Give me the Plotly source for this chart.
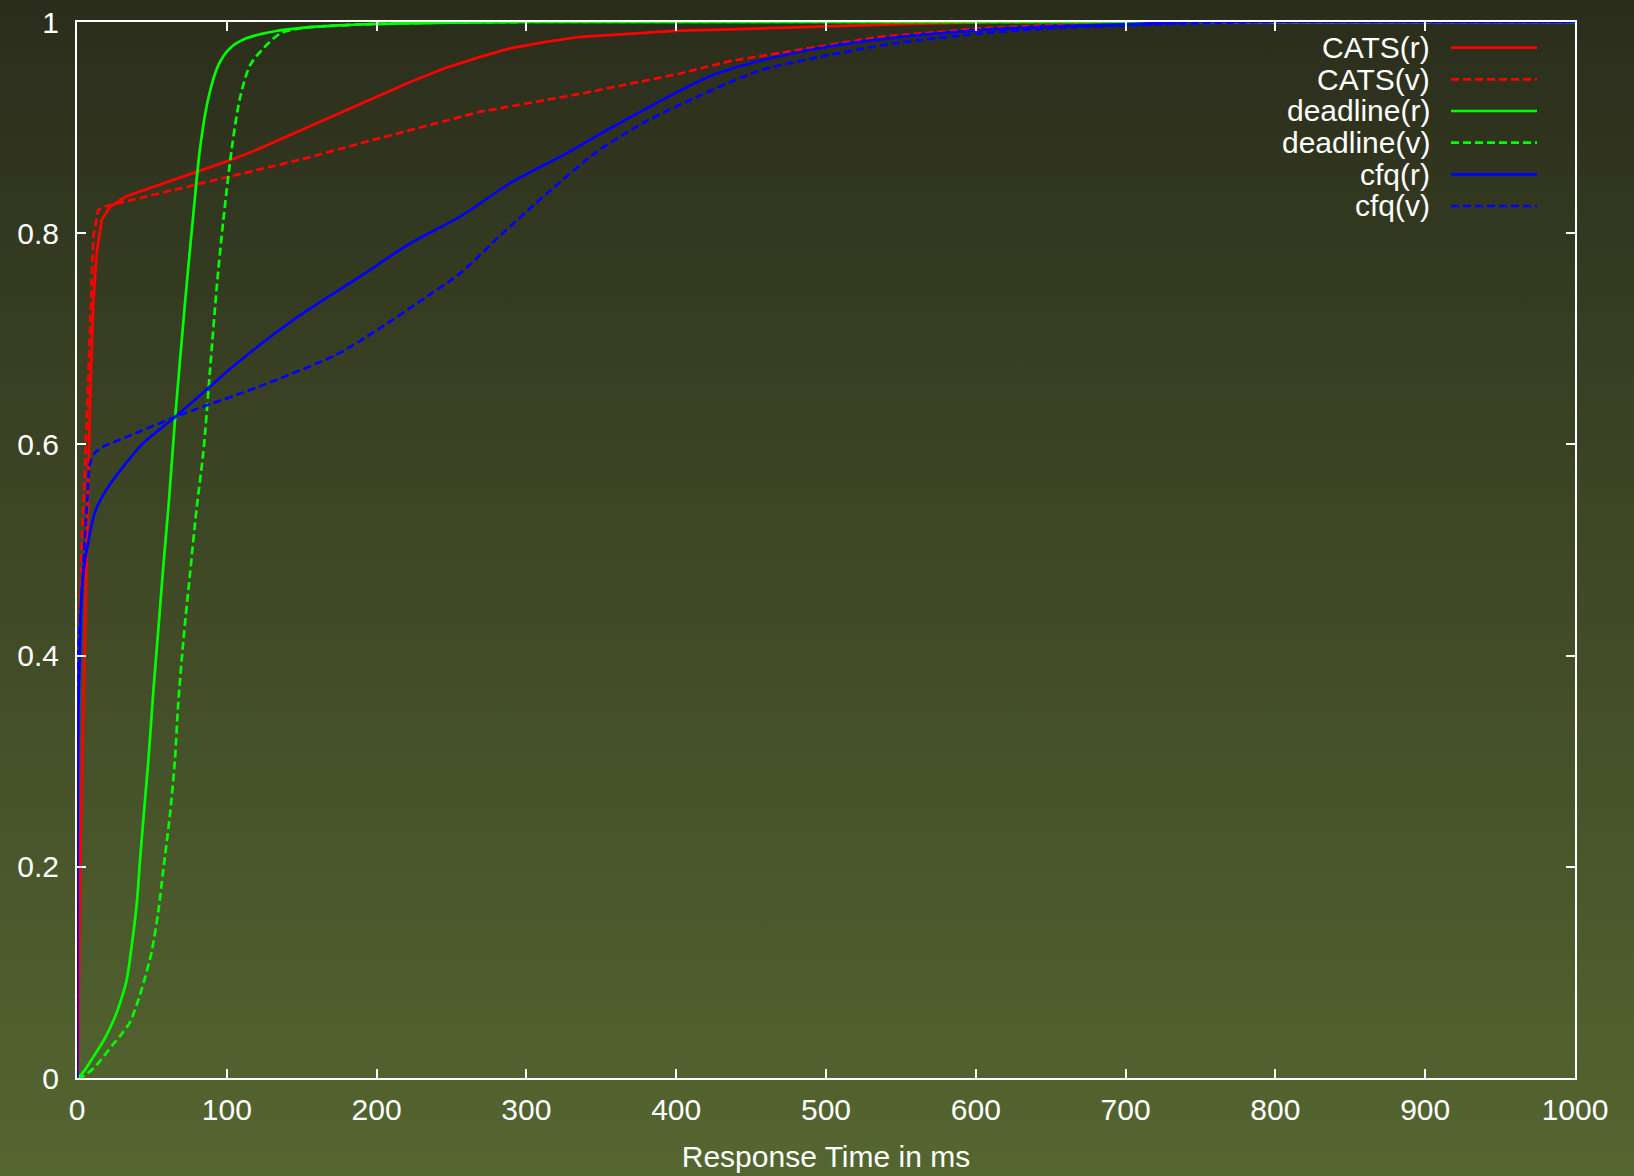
import base64
import plotly.graph_objects as go

# Response-time CDFs for three I/O schedulers, reads (r) and writes (v)
cats_r_x = [0, 0.5, 2.4, 4.5, 6.5, 8.5, 10.9, 13.1, 16.5, 22, 33, 55, 80, 100, 120, 136, 149, 175, 200, 222, 245, 267, 289, 312, 336, 358, 380, 402, 436, 470, 500, 550, 603, 650, 1000]
cats_r_y = [0, 0.01, 0.22, 0.37, 0.48, 0.63, 0.734, 0.781, 0.8125, 0.825, 0.835, 0.846, 0.858, 0.868, 0.879, 0.889, 0.897, 0.913, 0.929, 0.943, 0.956, 0.966, 0.975, 0.981, 0.986, 0.988, 0.990, 0.9918, 0.993, 0.9945, 0.9962, 0.998, 0.9997, 1.0, 1.0]

cats_v_x = [0, 0.5, 1, 2, 3.5, 5.3, 7.5, 8.7, 9.8, 10.9, 14.2, 17.6, 50, 80, 122, 136, 150, 202, 269, 336, 380, 402, 436, 470, 500, 536, 570, 603, 647, 700, 1000]
cats_v_y = [0, 0.2, 0.38, 0.45, 0.52, 0.576, 0.67, 0.718, 0.765, 0.797, 0.822, 0.825, 0.836, 0.846, 0.860, 0.865, 0.870, 0.890, 0.915, 0.932, 0.945, 0.951, 0.963, 0.971, 0.978, 0.986, 0.990, 0.994, 0.997, 1.0, 1.0]

deadline_r_x = [0, 2, 5, 10.9, 18, 24.2, 28.5, 33.2, 36.5, 39.9, 42, 44.3, 47.6, 50.9, 54.3, 57.6, 61.4, 65.4, 72.1, 77.6, 82.1, 87.7, 94.3, 102, 113, 133, 160, 196, 250, 300, 1000]
deadline_r_y = [0, 0.002, 0.007, 0.02, 0.036, 0.054, 0.07, 0.093, 0.125, 0.165, 0.205, 0.245, 0.30, 0.365, 0.425, 0.484, 0.547, 0.623, 0.734, 0.817, 0.880, 0.928, 0.959, 0.975, 0.9845, 0.9915, 0.9956, 0.998, 0.9995, 1.0, 1.0]

deadline_v_x = [0, 2, 10.9, 24.2, 30, 35.4, 40.5, 45.4, 49.9, 54.3, 57.6, 62.1, 65.4, 67.6, 71, 75.4, 79.9, 84.3, 88.8, 93.3, 97.7, 103.3, 108.8, 115.5, 124.4, 135.5, 149, 196, 250, 300, 1000]
deadline_v_y = [0, 0.0, 0.009, 0.032, 0.042, 0.053, 0.072, 0.095, 0.12, 0.158, 0.197, 0.25, 0.302, 0.355, 0.414, 0.477, 0.54, 0.592, 0.67, 0.749, 0.8125, 0.880, 0.928, 0.959, 0.975, 0.989, 0.994, 0.998, 0.9995, 1.0, 1.0]

cfq_r_x = [0, 0.3, 0.9, 2, 3.8, 8.5, 12, 18.7, 29.8, 44, 55, 65.4, 86.6, 104.3, 144.4, 189, 222, 256, 291, 324.6, 358, 380, 402.5, 425, 458, 503, 547, 603, 647, 703, 750, 1000]
cfq_r_y = [0, 0.2, 0.346, 0.409, 0.473, 0.515, 0.536, 0.555, 0.577, 0.601, 0.614, 0.626, 0.652, 0.674, 0.718, 0.759, 0.790, 0.816, 0.849, 0.874, 0.901, 0.918, 0.935, 0.950, 0.964, 0.977, 0.9855, 0.9924, 0.9956, 0.998, 1.0, 1.0]

cfq_v_x = [0, 0.3, 1, 3.8, 5.3, 7, 8.7, 12, 17.6, 33, 65.4, 86.6, 122, 173, 200, 233.5, 255.7, 282, 314, 347, 380, 413.7, 436, 458, 503, 547, 603, 647, 703, 750, 800, 1000]
cfq_v_y = [0, 0.3, 0.405, 0.473, 0.513, 0.55, 0.582, 0.592, 0.598, 0.607, 0.626, 0.637, 0.655, 0.685, 0.708, 0.740, 0.762, 0.797, 0.838, 0.877, 0.906, 0.929, 0.943, 0.955, 0.969, 0.980, 0.989, 0.994, 0.997, 0.999, 1.0, 1.0]

series_names = ["CATS(r)", "CATS(v)", "deadline(r)", "deadline(v)", "cfq(r)", "cfq(v)"]
series_x = [cats_r_x, cats_v_x, deadline_r_x, deadline_v_x, cfq_r_x, cfq_v_x]
series_y = [cats_r_y, cats_v_y, deadline_r_y, deadline_v_y, cfq_r_y, cfq_v_y]
series_colors = ["#ff0000", "#ff0000", "#00ff00", "#00ff00", "#0000ff", "#0000ff"]
series_dash = ["solid", "8px,4px", "solid", "8px,4px", "solid", "8px,4px"]
series_shape = ["linear", "linear", "spline", "spline", "spline", "spline"]

x_ticks = [0, 100, 200, 300, 400, 500, 600, 700, 800, 900, 1000]
y_ticks = [0, 0.2, 0.4, 0.6, 0.8, 1]
y_tick_text = ["0", "0.2", "0.4", "0.6", "0.8", "1"]

W, H = 1634, 1176
ML, MR, MT, MB = 77, 59, 22, 98
PW, PH = W - ML - MR, H - MT - MB
FONT = "Liberation Sans, Arial, sans-serif"

fig = go.Figure()
for name, xs, ys, col, dash, shp in zip(series_names, series_x, series_y, series_colors,
                                         series_dash, series_shape):
    line = dict(color=col, width=2.7, dash=dash, shape=shp)
    if shp == "spline":
        line["smoothing"] = 0.8
    fig.add_trace(go.Scatter(x=xs, y=ys, mode="lines", name=name, showlegend=False, line=line))

# vertical gradient backdrop across the whole figure
svg = ('<svg xmlns="http://www.w3.org/2000/svg" width="10" height="100" viewBox="0 0 10 100" '
       'preserveAspectRatio="none"><defs><linearGradient id="g" x1="0" y1="0" x2="0" y2="1">'
       '<stop offset="0" stop-color="#2b2d1c"/><stop offset="1" stop-color="#546630"/>'
       '</linearGradient></defs><rect width="10" height="100" fill="url(#g)"/></svg>')
src = "data:image/svg+xml;base64," + base64.b64encode(svg.encode()).decode()
fig.add_layout_image(dict(source=src, xref="paper", yref="paper",
                          x=-ML / PW, y=1 + MT / PH, sizex=W / PW, sizey=H / PH,
                          xanchor="left", yanchor="top", sizing="stretch", layer="below"))

# key in the top-right corner: right-aligned labels with line samples after them
row_y = [47.7, 79.3, 111.0, 142.7, 174.3, 206.0]
for name, col, dash, ry in zip(series_names, series_colors, series_dash, row_y):
    yp = ((H - MB) - ry) / PH
    fig.add_annotation(x=(1432 - ML) / PW, y=yp, xref="paper", yref="paper", text=name,
                       showarrow=False, xanchor="right", yanchor="middle",
                       font=dict(family=FONT, size=30, color="white"))
    fig.add_shape(type="line", xref="paper", yref="paper",
                  x0=(1451 - ML) / PW, x1=(1537 - ML) / PW, y0=yp, y1=yp,
                  line=dict(color=col, width=2.7, dash=dash))

axis_common = dict(showline=True, linecolor="white", linewidth=2, mirror="ticks",
                   ticks="inside", ticklen=9, tickwidth=1.5, tickcolor="white",
                   showgrid=False, zeroline=False, automargin=False,
                   tickfont=dict(family=FONT, size=30, color="white"))

fig.update_layout(
    width=W, height=H,
    margin=dict(l=ML, r=MR, t=MT, b=MB),
    paper_bgcolor="#3f4a26", plot_bgcolor="rgba(0,0,0,0)",
    font=dict(family=FONT, size=30, color="white"),
    xaxis=dict(range=[0, 1000], tickvals=x_ticks, ticktext=[str(v) for v in x_ticks],
               ticklabelstandoff=4,
               title=dict(text="Response Time in ms", font=dict(family=FONT, size=30, color="white"),
                          standoff=21),
               **axis_common),
    yaxis=dict(range=[0, 1], tickvals=y_ticks, ticktext=y_tick_text, ticklabelstandoff=10,
               **axis_common),
)

fig.write_html("out.html")
